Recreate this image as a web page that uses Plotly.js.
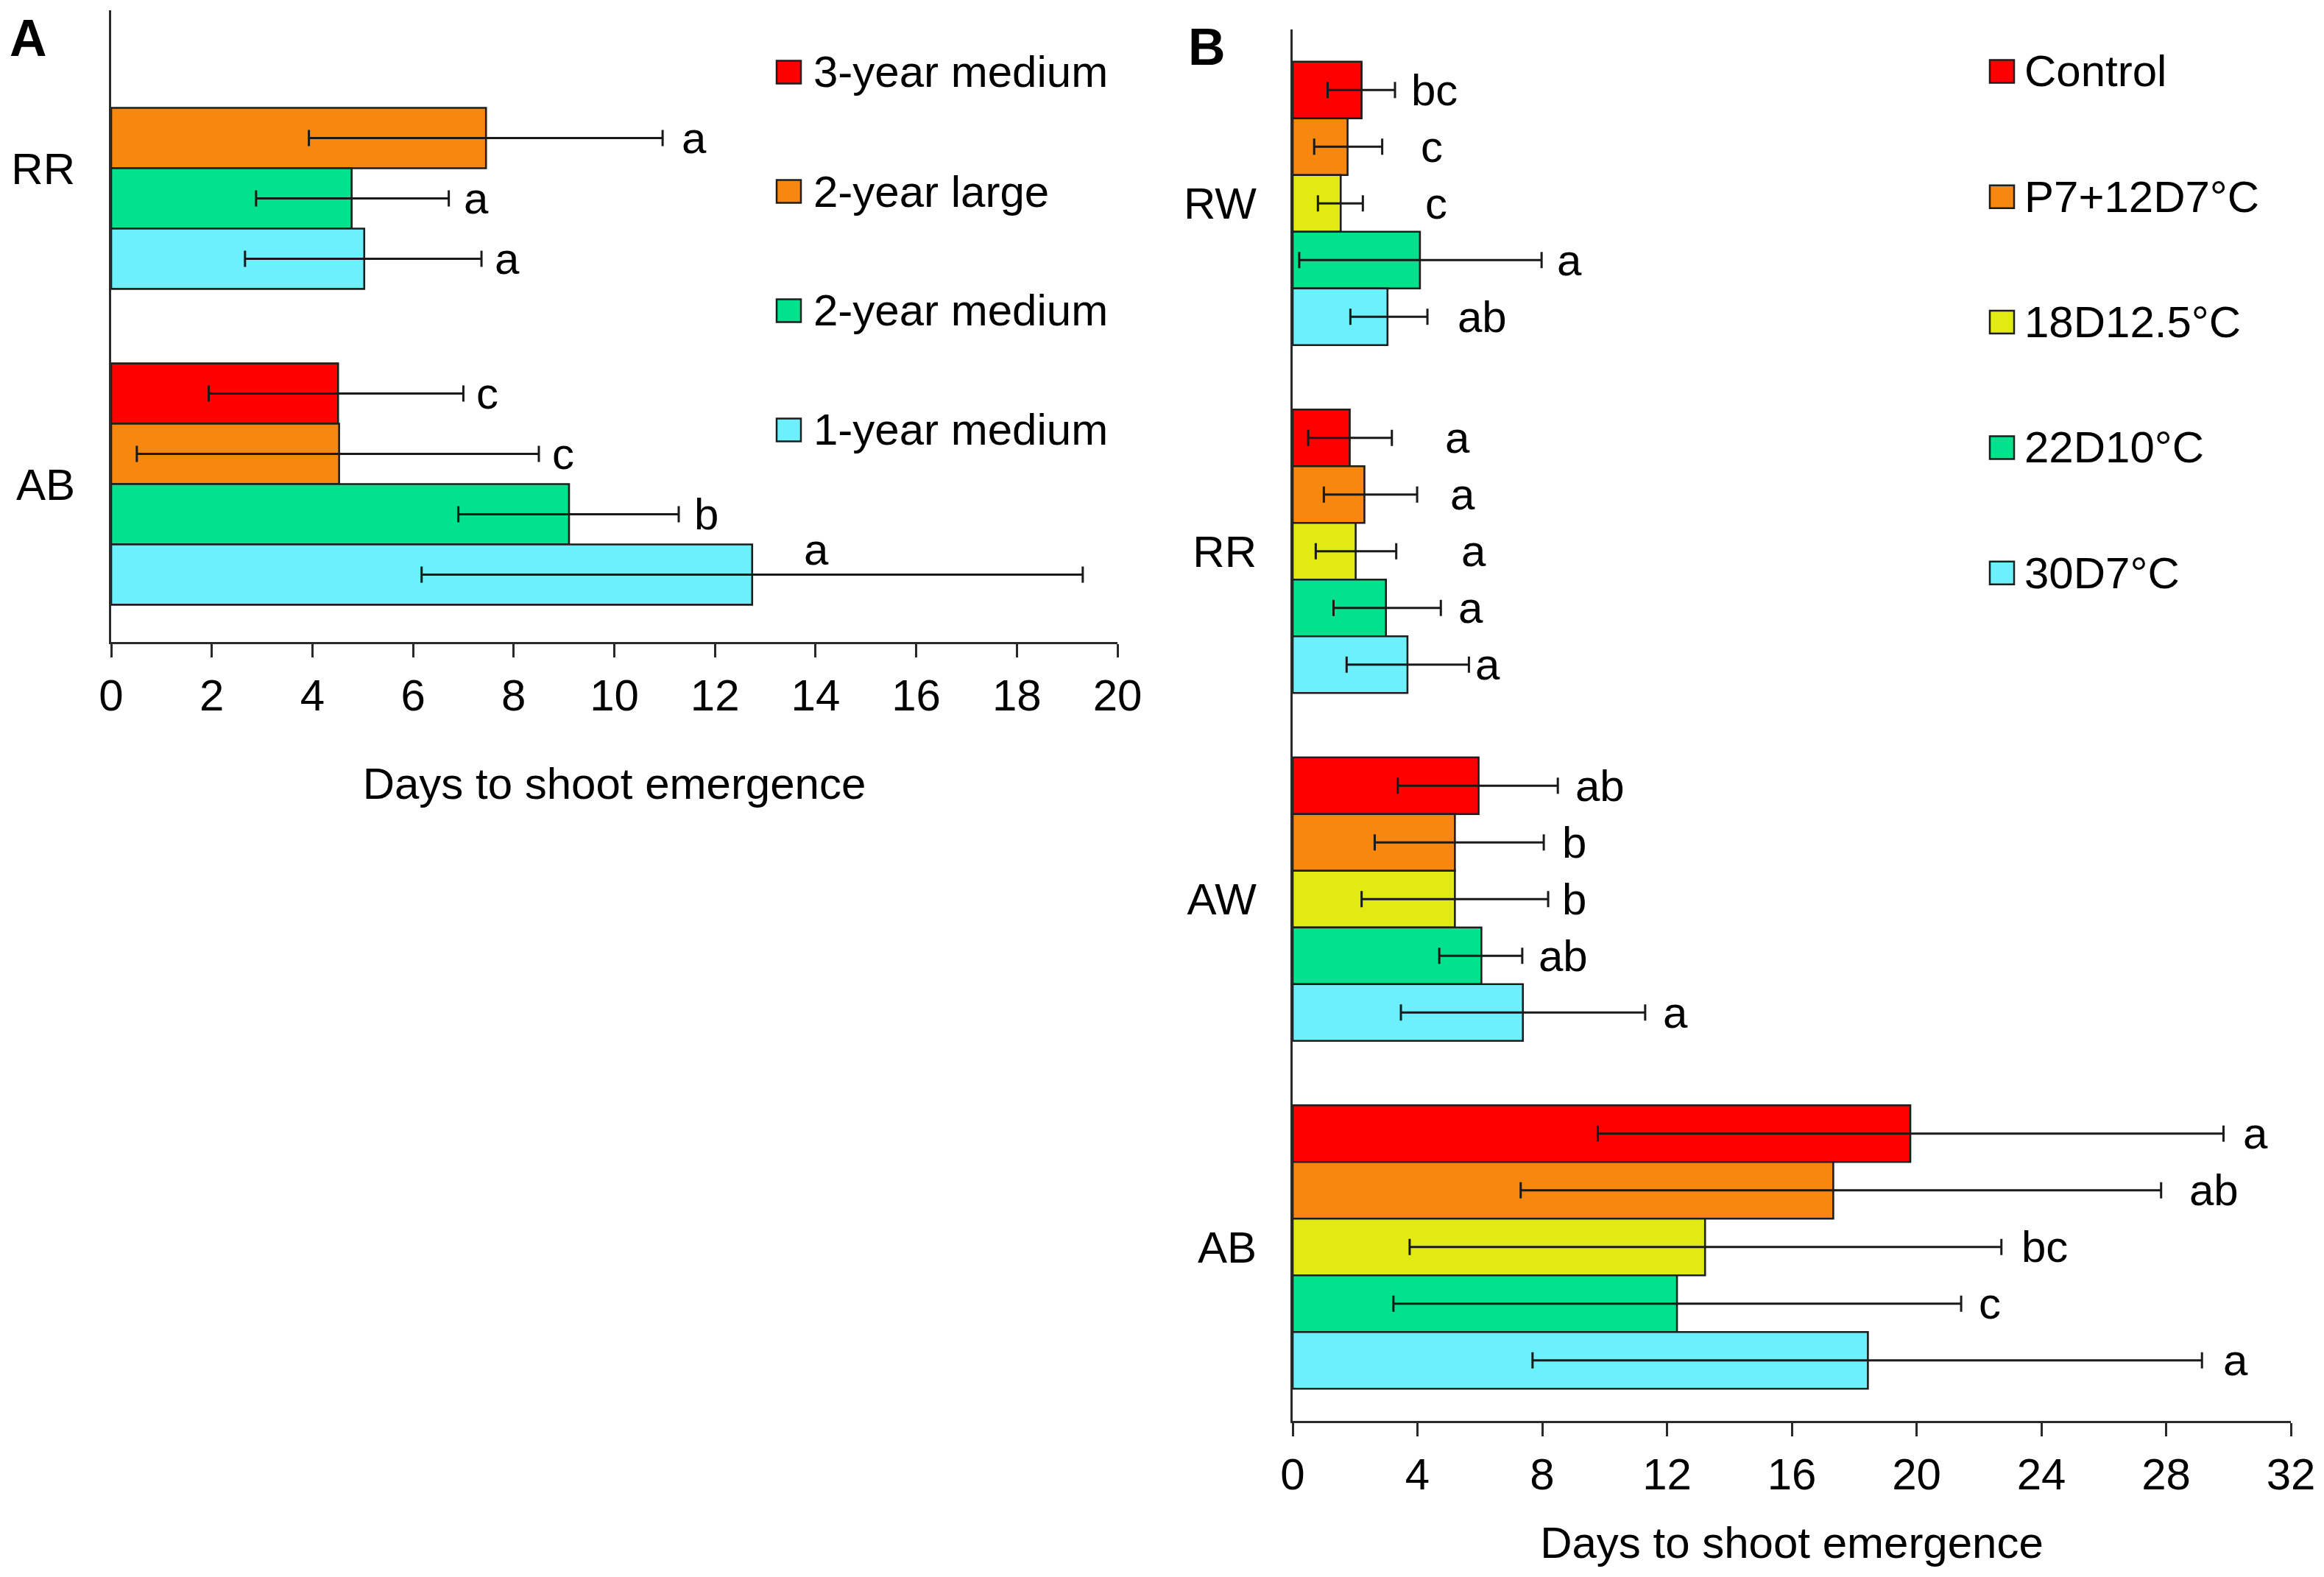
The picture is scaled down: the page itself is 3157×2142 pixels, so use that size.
<!DOCTYPE html>
<html>
<head>
<meta charset="utf-8">
<script src="https://cdn.plot.ly/plotly-3.0.1.min.js"></script>
<style>html,body{margin:0;padding:0;background:#fff}#chart{width:3157px;height:2142px}</style>
</head>
<body>
<div id="chart"></div>
<script>
// ---------------- DATA ----------------
// Panel A
const catsA = ['RR', 'AB'];
const seriesA = ['3-year medium', '2-year large', '2-year medium', '1-year medium'];
const a3yMed   = [null, 4.51];
const a2yLarge = [7.45, 4.53];
const a2yMed   = [4.78, 9.10];
const a1yMed   = [5.03, 12.74];
const a3yMedMinus   = [null, 2.57];
const a3yMedPlus    = [null, 2.49];
const a2yLargeMinus = [3.52, 4.02];
const a2yLargePlus  = [3.51, 3.97];
const a2yMedMinus   = [1.90, 2.20];
const a2yMedPlus    = [1.93, 2.18];
const a1yMedMinus   = [2.37, 6.57];
const a1yMedPlus    = [2.33, 6.57];
const a3yMedLetters   = [null, 'c'];
const a2yLargeLetters = ['a', 'c'];
const a2yMedLetters   = ['a', 'b'];
const a1yMedLetters   = ['a', 'a'];
const xTicksA = [0, 2, 4, 6, 8, 10, 12, 14, 16, 18, 20];

// Panel B
const catsB = ['RW', 'RR', 'AW', 'AB'];
const seriesB = ['Control', 'P7+12D7°C', '18D12.5°C', '22D10°C', '30D7°C'];
const bControl = [2.21, 1.83, 5.96, 19.80];
const bP7      = [1.76, 2.30, 5.20, 17.33];
const b18D     = [1.54, 2.02, 5.20, 13.22];
const b22D     = [4.08, 2.99, 6.05, 12.32];
const b30D     = [3.04, 3.68, 7.38, 18.44];
const bControlMinus = [1.09, 1.33, 2.59, 10.02];
const bControlPlus  = [1.07, 1.35, 2.54, 10.04];
const bP7Minus      = [1.07, 1.30, 2.57, 10.02];
const bP7Plus       = [1.11, 1.69, 2.85, 10.51];
const b18DMinus     = [0.73, 1.28, 2.99, 9.47];
const b18DPlus      = [0.71, 1.30, 2.99, 9.50];
const b22DMinus     = [3.87, 1.68, 1.35, 9.09];
const b22DPlus      = [3.90, 1.76, 1.31, 9.11];
const b30DMinus     = [1.19, 1.95, 3.91, 10.75];
const b30DPlus      = [1.28, 1.97, 3.92, 10.71];
const bControlLetters = ['bc', 'a', 'ab', 'a'];
const bP7Letters      = ['c', 'a', 'b', 'ab'];
const b18DLetters     = ['c', 'a', 'b', 'bc'];
const b22DLetters     = ['a', 'a', 'ab', 'c'];
const b30DLetters     = ['ab', 'a', 'a', 'a'];
const xTicksB = [0, 4, 8, 12, 16, 20, 24, 28, 32];

// ---------------- STYLE / LAYOUT ----------------
const W = 3157, H = 2142;
const FONT = 'Liberation Sans, Arial, Helvetica, sans-serif';
const colors = ['#FF0000', '#F7870F', '#E1EA12', '#02E28D', '#6CF0FC'];
const colorsA = [colors[0], colors[1], colors[3], colors[4]];
const edge = '#1e1e1e';
const px = x => x / W;
const py = y => 1 - y / H;

// label nudges (pixels right of error-bar end)
const gapA = [[0, 16], [24, 16], [18, 19], [16, 16]];
const gapB = [[20, 70, 22, 25], [50, 43, 23, 36], [83, 86, 17, 25], [19, 22, 20, 22], [39, 7, 22, 27]];

const valsA = [a3yMed, a2yLarge, a2yMed, a1yMed];
const minusA = [a3yMedMinus, a2yLargeMinus, a2yMedMinus, a1yMedMinus];
const plusA = [a3yMedPlus, a2yLargePlus, a2yMedPlus, a1yMedPlus];
const lettersA = [a3yMedLetters, a2yLargeLetters, a2yMedLetters, a1yMedLetters];

const valsB = [bControl, bP7, b18D, b22D, b30D];
const minusB = [bControlMinus, bP7Minus, b18DMinus, b22DMinus, b30DMinus];
const plusB = [bControlPlus, bP7Plus, b18DPlus, b22DPlus, b30DPlus];
const lettersB = [bControlLetters, bP7Letters, b18DLetters, b22DLetters, b30DLetters];

const wA = 0.191, wB = 0.1629;
const traces = [];
const annotations = [];
const shapes = [];

function addPanel(vals, minus, plus, letters, names, cols, cats, w, xa, ya, gaps, special) {
  const n = vals.length;
  for (let i = 0; i < n; i++) {
    const off = -n * w / 2 + i * w;
    traces.push({
      type: 'bar', orientation: 'h', name: names[i],
      y: cats, x: vals[i], xaxis: xa, yaxis: ya,
      width: w, offset: off,
      marker: {color: cols[i], line: {color: edge, width: 2.6}},
      error_x: {type: 'data', symmetric: false, array: plus[i], arrayminus: minus[i],
                color: '#1a1a1a', thickness: 3, width: 11},
      showlegend: false, hoverinfo: 'x+name'
    });
    for (let j = 0; j < cats.length; j++) {
      if (vals[i][j] == null || !letters[i][j]) continue;
      const yc = j + off + w / 2;
      let ann = {
        xref: xa, yref: ya, x: vals[i][j] + plus[i][j], y: yc,
        text: letters[i][j], showarrow: false, xanchor: 'left', yanchor: 'middle',
        xshift: gaps[i][j], font: {family: FONT, size: 60, color: '#000'}
      };
      if (special && special[0] === i && special[1] === j) {
        ann.x = vals[i][j]; ann.xshift = special[2]; ann.yshift = special[3];
      }
      annotations.push(ann);
    }
  }
}
addPanel(valsA, minusA, plusA, lettersA, seriesA, colorsA, catsA, wA, 'x', 'y', gapA, [3, 1, 68, 34]);
addPanel(valsB, minusB, plusB, lettersB, seriesB, colors, catsB, wB, 'x2', 'y2', gapB, null);

// manual legends
function addLegend(names, cols, x0, y0, step, textX) {
  names.forEach((nm, i) => {
    const yc = y0 + i * step;
    shapes.push({type: 'rect', xref: 'paper', yref: 'paper',
      x0: px(x0), x1: px(x0 + 33), y0: py(yc - 15.5), y1: py(yc + 15.5),
      fillcolor: cols[i], line: {color: edge, width: 2.5}});
    annotations.push({xref: 'paper', yref: 'paper', x: px(textX), y: py(yc),
      text: nm, showarrow: false, xanchor: 'left', yanchor: 'middle',
      font: {family: FONT, size: 60, color: '#000'}});
  });
}
addLegend(seriesA, colorsA, 1055, 98, 162, 1103);
addLegend(seriesB, colors, 2703, 97, 170.3, 2748);

// panel letters
annotations.push({xref: 'paper', yref: 'paper', x: px(38), y: py(52), text: '<b>A</b>',
  showarrow: false, xanchor: 'center', yanchor: 'middle', font: {family: FONT, size: 70, color: '#000'}});
annotations.push({xref: 'paper', yref: 'paper', x: px(1640), y: py(64), text: '<b>B</b>',
  showarrow: false, xanchor: 'center', yanchor: 'middle', font: {family: FONT, size: 70, color: '#000'}});

const tickFont = {family: FONT, size: 60, color: '#000'};
const xCommon = {
  ticks: 'outside', ticklen: 18, tickwidth: 3, tickcolor: '#2a2a2a',
  showline: true, linewidth: 3, linecolor: '#2a2a2a', showgrid: false, zeroline: false,
  tickfont: tickFont, tickmode: 'array', fixedrange: true
};
const yCommon = {
  type: 'category', showline: true, linewidth: 3, linecolor: '#2a2a2a', ticks: '',
  showgrid: false, zeroline: false, tickfont: tickFont, ticklabelstandoff: 34, autorange: false
};

const layout = {
  width: W, height: H, margin: {l: 0, r: 0, t: 0, b: 0},
  paper_bgcolor: '#fff', plot_bgcolor: '#fff',
  barmode: 'overlay', showlegend: false,
  font: {family: FONT, size: 60, color: '#000'},
  xaxis: Object.assign({}, xCommon, {
    domain: [px(151), px(1518)], range: [0, 20], anchor: 'y',
    tickvals: xTicksA, ticktext: xTicksA.map(String),
    title: {text: 'Days to shoot emergence', font: {family: FONT, size: 60, color: '#000'}, standoff: 66}
  }),
  yaxis: Object.assign({}, yCommon, {
    domain: [py(872), py(14)], range: [1.5, -0.5], anchor: 'x',
    categoryarray: catsA, categoryorder: 'array'
  }),
  xaxis2: Object.assign({}, xCommon, {
    domain: [px(1756), px(3112)], range: [0, 32], anchor: 'y2',
    tickvals: xTicksB, ticktext: xTicksB.map(String),
    title: {text: 'Days to shoot emergence', font: {family: FONT, size: 60, color: '#000'}, standoff: 39}
  }),
  yaxis2: Object.assign({}, yCommon, {
    domain: [py(1930), py(40)], range: [3.5, -0.5], anchor: 'x2',
    categoryarray: catsB, categoryorder: 'array'
  }),
  annotations: annotations,
  shapes: shapes
};

Plotly.newPlot('chart', traces, layout, {staticPlot: true, displayModeBar: false});
</script>
</body>
</html>
